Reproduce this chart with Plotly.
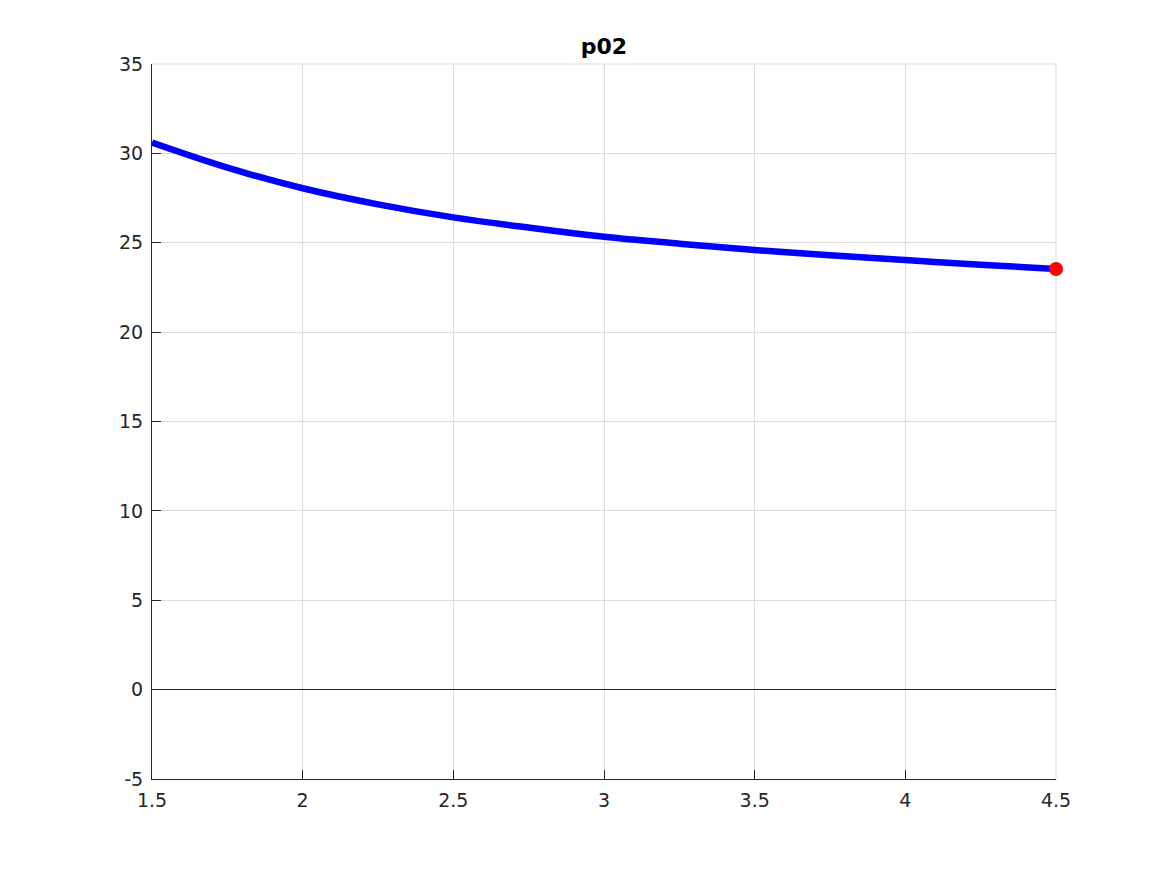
import plotly.graph_objects as go

x_vals = [1.5, 1.75, 2.0, 2.25, 2.5, 2.75, 3.0, 3.25, 3.5, 3.75, 4.0, 4.25, 4.5]
y_vals = [30.60, 29.20, 28.05, 27.15, 26.42, 25.85, 25.34, 24.95, 24.59, 24.30, 24.03, 23.77, 23.53]
end_x = [4.5]
end_y = [23.53]
x_ticks = [1.5, 2, 2.5, 3, 3.5, 4, 4.5]
x_tick_text = ["1.5", "2", "2.5", "3", "3.5", "4", "4.5"]
y_ticks = [-5, 0, 5, 10, 15, 20, 25, 30, 35]
y_tick_text = ["-5", "0", "5", "10", "15", "20", "25", "30", "35"]
title_text = "p02"

fig = go.Figure()
fig.add_trace(go.Scatter(x=x_vals, y=y_vals, mode="lines", line=dict(color="#0000ff", width=6.5, shape="spline"),
                         showlegend=False, cliponaxis=False))
fig.add_trace(go.Scatter(x=end_x, y=end_y, mode="markers", marker=dict(color="#ff0000", size=14),
                         showlegend=False, cliponaxis=False))

axis_common = dict(showgrid=True, gridcolor="#dcdcdc", gridwidth=1, showline=True, linecolor="#262626",
                   linewidth=1, ticks="inside", ticklen=9, tickcolor="#262626",
                   tickfont=dict(family="DejaVu Sans", size=19, color="#262626"))

fig.update_xaxes(range=[1.5, 4.5], tickvals=x_ticks, ticktext=x_tick_text, zeroline=False,
                 ticklabelstandoff=4, **axis_common)
fig.update_yaxes(range=[-5, 35], tickvals=y_ticks, ticktext=y_tick_text, zeroline=True,
                 zerolinecolor="#262626", zerolinewidth=1, ticklabelstandoff=4, **axis_common)

# light top/right border like the reference
fig.add_shape(type="line", xref="paper", yref="paper", x0=0, x1=1, y0=1, y1=1, line=dict(color="#dcdcdc", width=1), layer="below")
fig.add_shape(type="line", xref="paper", yref="paper", x0=1, x1=1, y0=0, y1=1, line=dict(color="#dcdcdc", width=1), layer="below")

fig.update_layout(
    width=1167, height=875,
    margin=dict(l=144, r=119, t=56, b=104),
    paper_bgcolor="white", plot_bgcolor="white",
    title=dict(text="<b>" + title_text + "</b>", x=(144 + 452) / 1167, xanchor="center",
               y=1 - 38 / 875, yanchor="middle", font=dict(family="DejaVu Sans", size=22, color="black")),
)

fig.write_html("out.html")
